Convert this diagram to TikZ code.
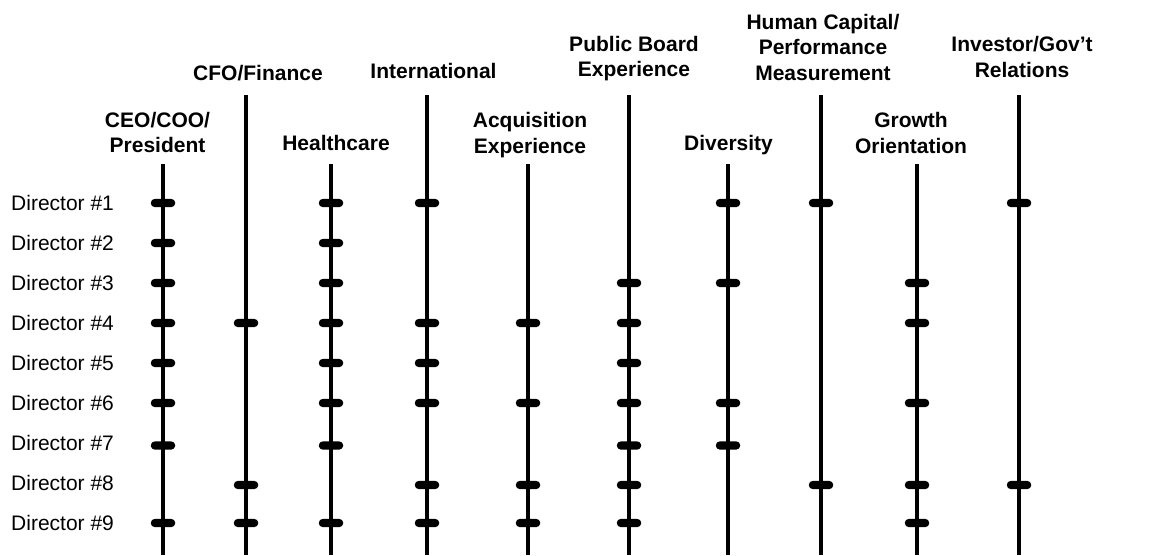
\documentclass[tikz,border=0pt]{standalone}
\usepackage{fontspec}
\setmainfont{Liberation Sans}
\begin{document}
\begin{tikzpicture}[x=1pt,y=-1pt,
  head/.style={font=\bfseries\fontsize{21}{25.5}\selectfont, align=center, anchor=base, inner sep=0pt},
  dirlabel/.style={font=\fontsize{21}{25.5}\selectfont, anchor=base west, inner sep=0pt},
  axis/.style={line width=3.6pt},
  tickmark/.style={fill=black, rounded corners=4.1pt, minimum width=24.5pt, minimum height=8.3pt, inner sep=0pt}]
\useasboundingbox (0,0) rectangle (1151,555);

% skill columns: name / x / top of the vertical line
\foreach \n/\x/\t in {ceo/163/164, cfo/246/95, hc/331/164, intl/427/95, acq/528/164,
                      pb/629/95, div/728/164, hum/821/95, gro/917/164, inv/1019/95} {
  \coordinate (\n-top) at (\x,\t);
  \coordinate (\n-bot) at (\x,555);
  \draw[axis] (\n-top) -- (\n-bot);
}

% column headings
\node[head] (h-ceo)  at (157.5,152.7) {CEO/COO/\\President};
\node[head] (h-cfo)  at (258,80)      {CFO/Finance};
\node[head] (h-hc)   at (336,150)     {Healthcare};
\node[head] (h-intl) at (433.5,78.5)  {International};
\node[head] (h-acq)  at (530,153)     {Acquisition\\Experience};
\node[head] (h-pb)   at (634,76.5)    {Public Board\\Experience};
\node[head] (h-div)  at (728.5,150)   {Diversity};
\node[head] (h-hum)  at (823,80)      {Human Capital/\\Performance\\Measurement};
\node[head] (h-gro)  at (911,153)     {Growth\\Orientation};
\node[head] (h-inv)  at (1022,77)     {Investor/Gov’t\\Relations};

% director rows
\foreach \r/\y in {1/203, 2/243, 3/283, 4/323, 5/363, 6/403, 7/445.5, 8/485, 9/523}
  \coordinate (row\r) at (0,\y);

\foreach \r in {1,...,9}
  \node[dirlabel] (d\r) at (11,{210+40*(\r-1)}) {Director \#\r};

% skill marks per director
\foreach \r/\cols in {1/{ceo,hc,intl,div,hum,inv},
                      2/{ceo,hc},
                      3/{ceo,hc,pb,div,gro},
                      4/{ceo,cfo,hc,intl,acq,pb,gro},
                      5/{ceo,hc,intl,pb},
                      6/{ceo,hc,intl,acq,pb,div,gro},
                      7/{ceo,hc,pb,div},
                      8/{cfo,intl,acq,pb,hum,gro,inv},
                      9/{ceo,cfo,hc,intl,acq,pb,gro}}
  \foreach \c in \cols
    \node[tickmark] (t\r-\c) at (\c-top |- row\r) {};
\end{tikzpicture}
\end{document}
